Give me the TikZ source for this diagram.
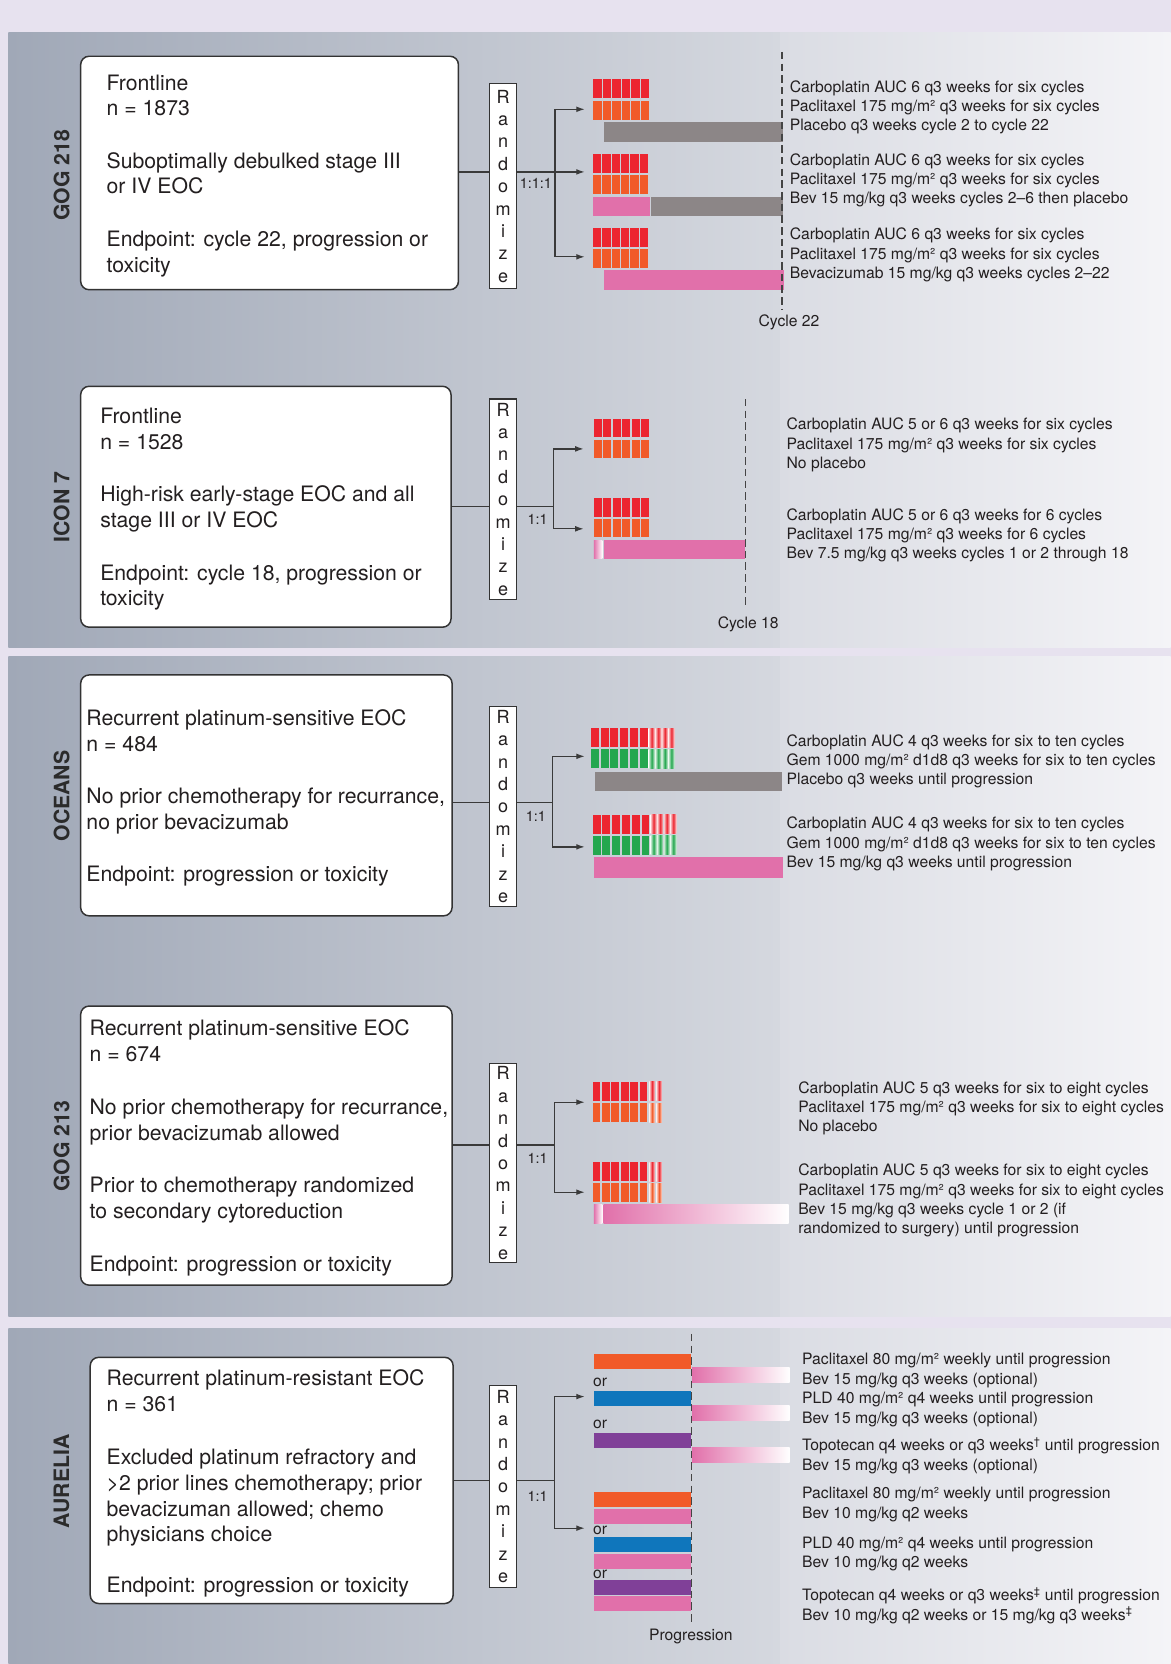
\documentclass[tikz,border=0pt]{standalone}
\usepackage{fontspec}
\setmainfont{TeX Gyre Heros}
\usetikzlibrary{arrows.meta,calc}
\definecolor{lav}{HTML}{E7E2EF}
\definecolor{panelL}{HTML}{A0A8B7}
\definecolor{panelM}{HTML}{D5D8DF}
\definecolor{panelMM}{HTML}{DADCE3}
\definecolor{panelR}{HTML}{F4F4F7}
\definecolor{ink}{HTML}{231F20}
\definecolor{boxline}{HTML}{333333}
\definecolor{lineg}{HTML}{3A3A3A}
\definecolor{dashg}{HTML}{444444}
\definecolor{sidegrey}{HTML}{2B2B2B}
\definecolor{cred}{HTML}{EC2530}
\definecolor{corange}{HTML}{F15A29}
\definecolor{cgrey}{HTML}{8C8687}
\definecolor{cpink}{HTML}{E170AA}
\definecolor{cgreen}{HTML}{24A74F}
\definecolor{cblue}{HTML}{0F76BC}
\definecolor{cpurple}{HTML}{804098}
% x0, ytop, height, color, pitch, width (six solid blocks)
\newcommand\solidrow[6]{\foreach \k in {0,...,5} {\fill[#4] ({#1+#5*\k},#2) rectangle ++(#6,#3);}}
% x0, ytop, height, color, count, pitch, width (fading blocks)
\newcommand\fadeblocks[7]{\foreach \k in {1,...,#5} {\shade[left color=#4!20!white, right color=#4!20!white, middle color=#4] ({#1+#6*(\k-1)},#2) rectangle ++(#7,#3);}}
\begin{document}
\begin{tikzpicture}[x=1pt,y=-1pt,
  mainbox/.style={draw=boxline, line width=1.4pt, fill=white, rounded corners=8pt, inner sep=0pt},
  boxtext/.style={anchor=west, align=left, inner sep=0pt, text=ink, font=\fontsize{20}{24.3}\selectfont},
  randbox/.style={draw=boxline, line width=1.1pt, fill=white, minimum width=25pt, align=center, inner sep=0pt, text=ink, font=\fontsize{17}{21.1}\selectfont},
  drug/.style={anchor=west, align=left, inner sep=0pt, text=ink, font=\fontsize{14.8}{18}\selectfont},
  drugw/.style={anchor=west, align=left, inner sep=0pt, text=ink, font=\fontsize{14.8}{18.4}\selectfont},
  side/.style={rotate=90, font=\fontsize{20}{24}\selectfont\bfseries, text=sidegrey, inner sep=0pt},
  conn/.style={draw=lineg, line width=1.2pt},
  arr/.style={conn, -{Latex[length=8pt,width=5.5pt]}},
  cyc/.style={draw=dashg, line width=1.3pt, dash pattern=on 7pt off 4pt},
  ratio/.style={font=\fontsize{13.5}{16}\selectfont, text=ink, inner sep=0pt},
  small/.style={font=\fontsize{14.8}{18}\selectfont, text=ink, inner sep=0pt}
]
\useasboundingbox (0,0) rectangle (1103,1568);
\fill[lav] (0,0) rectangle (1103,1568);
\foreach \ya/\yb in {31/610, 618.5/1241, 1252/1568} {
  \shade[left color=panelL, right color=panelM] (8,\ya) rectangle (735,\yb);
  \shade[left color=panelMM, right color=panelR] (735,\ya) rectangle (1103,\yb);
}

% side labels
\node[side] (s1) at (58,165) {GOG 218};
\node[side] (s2) at (58,478) {ICON 7};
\node[side] (s3) at (58,750) {OCEANS};
\node[side] (s4) at (58,1080) {GOG 213};
\node[side] (s5) at (58,1396) {AURELIA};

%================ GOG 218
\node[mainbox, minimum width=356pt, minimum height=220pt] (b1) at (254,163) {};
\node[boxtext] (t1) at ($(b1.west)+(25,2.5)$) {Frontline\\n = 1873\\[25pt]Suboptimally debulked stage III\\or IV EOC\\[25pt]Endpoint: cycle 22, progression or\\toxicity};
\node[randbox, minimum height=193pt] (r1) at (474,175.5) {R\\a\\n\\d\\o\\m\\i\\z\\e};
\coordinate (j1) at (523,162);
\coordinate (e1a) at (551,103);
\coordinate (e1b) at (551,162);
\coordinate (e1c) at (551,242);
\draw[conn] (b1.east |- j1) -- (r1.west |- j1);
\draw[arr] (r1.east |- j1) -- (e1b);
\draw[arr] (j1) |- (e1a);
\draw[arr] (j1) |- (e1c);
\node[ratio] (q1) at (505,173) {1:1:1};

\solidrow{559.2}{74.4}{17.9}{cred}{8.9}{7.9}
\solidrow{559.2}{95.1}{17.9}{corange}{8.9}{7.9}
\fill[cgrey] (568.9,114.9) rectangle (738.1,133.7);
\solidrow{558.5}{145}{18}{cred}{8.9}{7.9}
\solidrow{558.5}{164.8}{17.9}{corange}{8.9}{7.9}
\fill[cpink] (558.5,185.6) rectangle (612.2,204);
\fill[cgrey] (613,185.6) rectangle (738,204);
\solidrow{558.5}{214.8}{17.5}{cred}{8.9}{7.9}
\solidrow{558.5}{234.5}{17.6}{corange}{8.9}{7.9}
\fill[cpink] (568.9,254.3) rectangle (738.4,273.1);
\coordinate (d1a) at (737,49);
\coordinate (d1b) at (737,292);
\draw[cyc] (d1a) -- (d1b);
\node[small] (c1) at (743.5,304) {Cycle 22};
\node[drug] (g1a) at (744,101.2) {Carboplatin AUC 6 q3 weeks for six cycles\\Paclitaxel 175 mg/m² q3 weeks for six cycles\\Placebo q3 weeks cycle 2 to cycle 22};
\node[drug] (g1b) at (744,170.2) {Carboplatin AUC 6 q3 weeks for six cycles\\Paclitaxel 175 mg/m² q3 weeks for six cycles\\Bev 15 mg/kg q3 weeks cycles 2–6 then placebo};
\node[drug] (g1c) at (744,240.2) {Carboplatin AUC 6 q3 weeks for six cycles\\Paclitaxel 175 mg/m² q3 weeks for six cycles\\Bevacizumab 15 mg/kg q3 weeks cycles 2–22};

%================ ICON 7
\node[mainbox, minimum width=349pt, minimum height=227pt] (b2) at (250.5,477.5) {};
\node[boxtext] (t2) at ($(b2.west)+(19,2.5)$) {Frontline\\n = 1528\\[25pt]High-risk early-stage EOC and all\\stage III or IV EOC\\[25pt]Endpoint: cycle 18, progression or\\toxicity};
\node[randbox, minimum height=189pt] (r2) at (474,470.5) {R\\a\\n\\d\\o\\m\\i\\z\\e};
\coordinate (j2) at (521.6,477);
\coordinate (e2a) at (550,423);
\coordinate (e2b) at (550,498.3);
\draw[conn] (b2.east |- j2) -- (r2.west |- j2);
\draw[conn] (r2.east |- j2) -- (j2);
\draw[arr] (j2) |- (e2a);
\draw[arr] (j2) |- (e2b);
\node[ratio] (q2) at (506.5,489.8) {1:1};

\solidrow{559.5}{394.6}{17.6}{cred}{8.95}{7.5}
\solidrow{559.5}{414.4}{17.6}{corange}{8.95}{7.5}
\solidrow{559.5}{469.4}{17.3}{cred}{8.95}{7.5}
\solidrow{559.5}{488.8}{17.6}{corange}{8.95}{7.5}
\shade[left color=cpink, right color=white] (559.5,509.2) rectangle (567.7,526.5);
\fill[cpink] (568.9,509.2) rectangle (701.7,526.5);
\coordinate (d2a) at (702.3,376);
\coordinate (d2b) at (702.3,573);
\draw[cyc] (d2a) -- (d2b);
\node[small] (c2) at (705,588) {Cycle 18};
\node[drug] (g2a) at (741,419.2) {Carboplatin AUC 5 or 6 q3 weeks for six cycles\\Paclitaxel 175 mg/m² q3 weeks for six cycles\\No placebo};
\node[drug] (g2b) at (741,504.2) {Carboplatin AUC 5 or 6 q3 weeks for 6 cycles\\Paclitaxel 175 mg/m² q3 weeks for 6 cycles\\Bev 7.5 mg/kg q3 weeks cycles 1 or 2 through 18};

%================ OCEANS
\node[mainbox, minimum width=350pt, minimum height=227pt] (b3) at (251,749.5) {};
\node[boxtext] (t3) at ($(b3.west)+(6,2.5)$) {Recurrent platinum-sensitive EOC\\n = 484\\[25pt]No prior chemotherapy for recurrance,\\no prior bevacizumab\\[25pt]Endpoint: progression or toxicity};
\node[randbox, minimum height=188pt] (r3) at (474,760) {R\\a\\n\\d\\o\\m\\i\\z\\e};
\coordinate (j3) at (520.5,756);
\coordinate (e3a) at (551,712.7);
\coordinate (e3b) at (551,798);
\draw[conn] (b3.east |- j3) -- (r3.west |- j3);
\draw[conn] (r3.east |- j3) -- (j3);
\draw[arr] (j3) |- (e3a);
\draw[arr] (j3) |- (e3b);
\node[ratio] (q3) at (505,769) {1:1};

\solidrow{556.7}{686}{17.9}{cred}{9.2}{7.5}
\fadeblocks{611.3}{686}{17.9}{cred}{4}{6.2}{5.6}
\solidrow{556.7}{706.1}{17.9}{cgreen}{9.2}{7.5}
\fadeblocks{611.3}{706.1}{17.9}{cgreen}{4}{6.2}{5.6}
\fill[cgrey] (560.4,727.1) rectangle (736.5,745);
\solidrow{558.5}{767.6}{17.9}{cred}{9.2}{7.5}
\fadeblocks{613.1}{767.6}{17.9}{cred}{4}{6.2}{5.6}
\solidrow{558.5}{787.4}{17.9}{cgreen}{9.2}{7.5}
\fadeblocks{613.1}{787.4}{17.9}{cgreen}{4}{6.2}{5.6}
\fill[cpink] (559.5,807.2) rectangle (737.5,827);
\node[drug] (g3a) at (741,717.2) {Carboplatin AUC 4 q3 weeks for six to ten cycles\\Gem 1000 mg/m² d1d8 q3 weeks for six to ten cycles\\Placebo q3 weeks until progression};
\node[drug] (g3b) at (741,795.2) {Carboplatin AUC 4 q3 weeks for six to ten cycles\\Gem 1000 mg/m² d1d8 q3 weeks for six to ten cycles\\Bev 15 mg/kg q3 weeks until progression};

%================ GOG 213
\node[mainbox, minimum width=350pt, minimum height=263pt] (b4) at (251,1079.5) {};
\node[boxtext] (t4) at ($(b4.west)+(9,2)$) {Recurrent platinum-sensitive EOC\\n = 674\\[26pt]No prior chemotherapy for recurrance,\\prior bevacizumab allowed\\[25pt]Prior to chemotherapy randomized\\to secondary cytoreduction\\[25pt]Endpoint: progression or toxicity};
\node[randbox, minimum height=188pt] (r4) at (474,1096) {R\\a\\n\\d\\o\\m\\i\\z\\e};
\coordinate (j4) at (522.7,1079);
\coordinate (e4a) at (551,1038.6);
\coordinate (e4b) at (551,1123.4);
\draw[conn] (b4.east |- j4) -- (r4.west |- j4);
\draw[conn] (r4.east |- j4) -- (j4);
\draw[arr] (j4) |- (e4a);
\draw[arr] (j4) |- (e4b);
\node[ratio] (q4) at (506.5,1091.6) {1:1};

\solidrow{558.5}{1019.1}{17.9}{cred}{8.85}{7.2}
\fadeblocks{611.9}{1019.1}{17.9}{cred}{2}{6.6}{5.2}
\solidrow{558.5}{1039.8}{17.6}{corange}{8.85}{7.2}
\fadeblocks{611.9}{1039.8}{17.6}{corange}{2}{6.6}{5.2}
\solidrow{558.5}{1095.4}{17.6}{cred}{8.85}{7.2}
\fadeblocks{611.9}{1095.4}{17.6}{cred}{2}{6.6}{5.2}
\solidrow{558.5}{1115.2}{17.6}{corange}{8.85}{7.2}
\fadeblocks{611.9}{1115.2}{17.6}{corange}{2}{6.6}{5.2}
\shade[left color=cpink, right color=white] (559.5,1134.7) rectangle (567.7,1152.6);
\shade[left color=cpink, right color=white] (568.9,1134.7) rectangle (743.2,1152.6);
\node[drug] (g4a) at (752,1044.2) {Carboplatin AUC 5 q3 weeks for six to eight cycles\\Paclitaxel 175 mg/m² q3 weeks for six to eight cycles\\No placebo};
\node[drug] (g4b) at (752,1131.2) {Carboplatin AUC 5 q3 weeks for six to eight cycles\\Paclitaxel 175 mg/m² q3 weeks for six to eight cycles\\Bev 15 mg/kg q3 weeks cycle 1 or 2 (if\\randomized to surgery) until progression};

%================ AURELIA
\node[mainbox, minimum width=342pt, minimum height=232pt] (b5) at (256,1395) {};
\node[boxtext] (t5) at ($(b5.west)+(16,2.5)$) {Recurrent platinum-resistant EOC\\n = 361\\[26pt]Excluded platinum refractory and\\>2 prior lines chemotherapy; prior\\bevacizuman allowed; chemo\\physicians choice\\[23pt]Endpoint: progression or toxicity};
\node[randbox, minimum height=190.5pt] (r5) at (474,1400.7) {R\\a\\n\\d\\o\\m\\i\\z\\e};
\coordinate (j5) at (522.7,1395);
\coordinate (e5a) at (551,1316);
\coordinate (e5b) at (551,1440);
\draw[conn] (b5.east |- j5) -- (r5.west |- j5);
\draw[conn] (r5.east |- j5) -- (j5);
\draw[arr] (j5) |- (e5a);
\draw[arr] (j5) |- (e5b);
\node[ratio] (q5) at (506.5,1410.3) {1:1};

\fill[corange] (559.5,1276.2) rectangle (650.8,1290.1);
\fill[cblue] (559.5,1311.1) rectangle (650.8,1325.2);
\fill[cpurple] (559.5,1350.7) rectangle (650.8,1364.8);
\shade[left color=cpink, right color=white] (652.1,1288.5) rectangle (744.1,1302.6);
\shade[left color=cpink, right color=white] (652.1,1324.3) rectangle (744.1,1338.1);
\shade[left color=cpink, right color=white] (652.1,1363.8) rectangle (744.1,1377.7);
\fill[corange] (559.5,1406.2) rectangle (650.8,1420.4);
\fill[cpink] (559.5,1422.2) rectangle (650.8,1436.4);
\fill[cblue] (559.5,1448.6) rectangle (650.8,1462.4);
\fill[cpink] (559.5,1464.6) rectangle (650.8,1478.7);
\fill[cpurple] (559.5,1489.1) rectangle (650.8,1503);
\fill[cpink] (559.5,1504.2) rectangle (650.8,1518);
\node[small, anchor=west] (o1) at (558.8,1303) {or};
\node[small, anchor=west] (o2) at (558.8,1342.2) {or};
\node[small, anchor=west] (o3) at (558.8,1442) {or};
\node[small, anchor=west] (o4) at (558.8,1483.5) {or};
\coordinate (d5a) at (651.5,1257);
\coordinate (d5b) at (651.5,1531);
\draw[cyc] (d5a) -- (d5b);
\node[small] (c5) at (651,1542) {Progression};
\node[drugw] (g5a) at (755.7,1310) {Paclitaxel 80 mg/m² weekly until progression\\Bev 15 mg/kg q3 weeks (optional)\\PLD 40 mg/m² q4 weeks until progression\\Bev 15 mg/kg q3 weeks (optional)};
\node[drugw] (g5b) at (755.7,1371.5) {Topotecan q4 weeks or q3 weeks\textsuperscript{†} until progression\\Bev 15 mg/kg q3 weeks (optional)};
\node[drugw] (g5c) at (755.7,1417.7) {Paclitaxel 80 mg/m² weekly until progression\\Bev 10 mg/kg q2 weeks};
\node[drugw] (g5d) at (755.7,1464.1) {PLD 40 mg/m² q4 weeks until progression\\Bev 10 mg/kg q2 weeks};
\node[drugw] (g5e) at (755.7,1512.8) {Topotecan q4 weeks or q3 weeks\textsuperscript{‡} until progression\\Bev 10 mg/kg q2 weeks or 15 mg/kg q3 weeks\textsuperscript{‡}};
\end{tikzpicture}
\end{document}
